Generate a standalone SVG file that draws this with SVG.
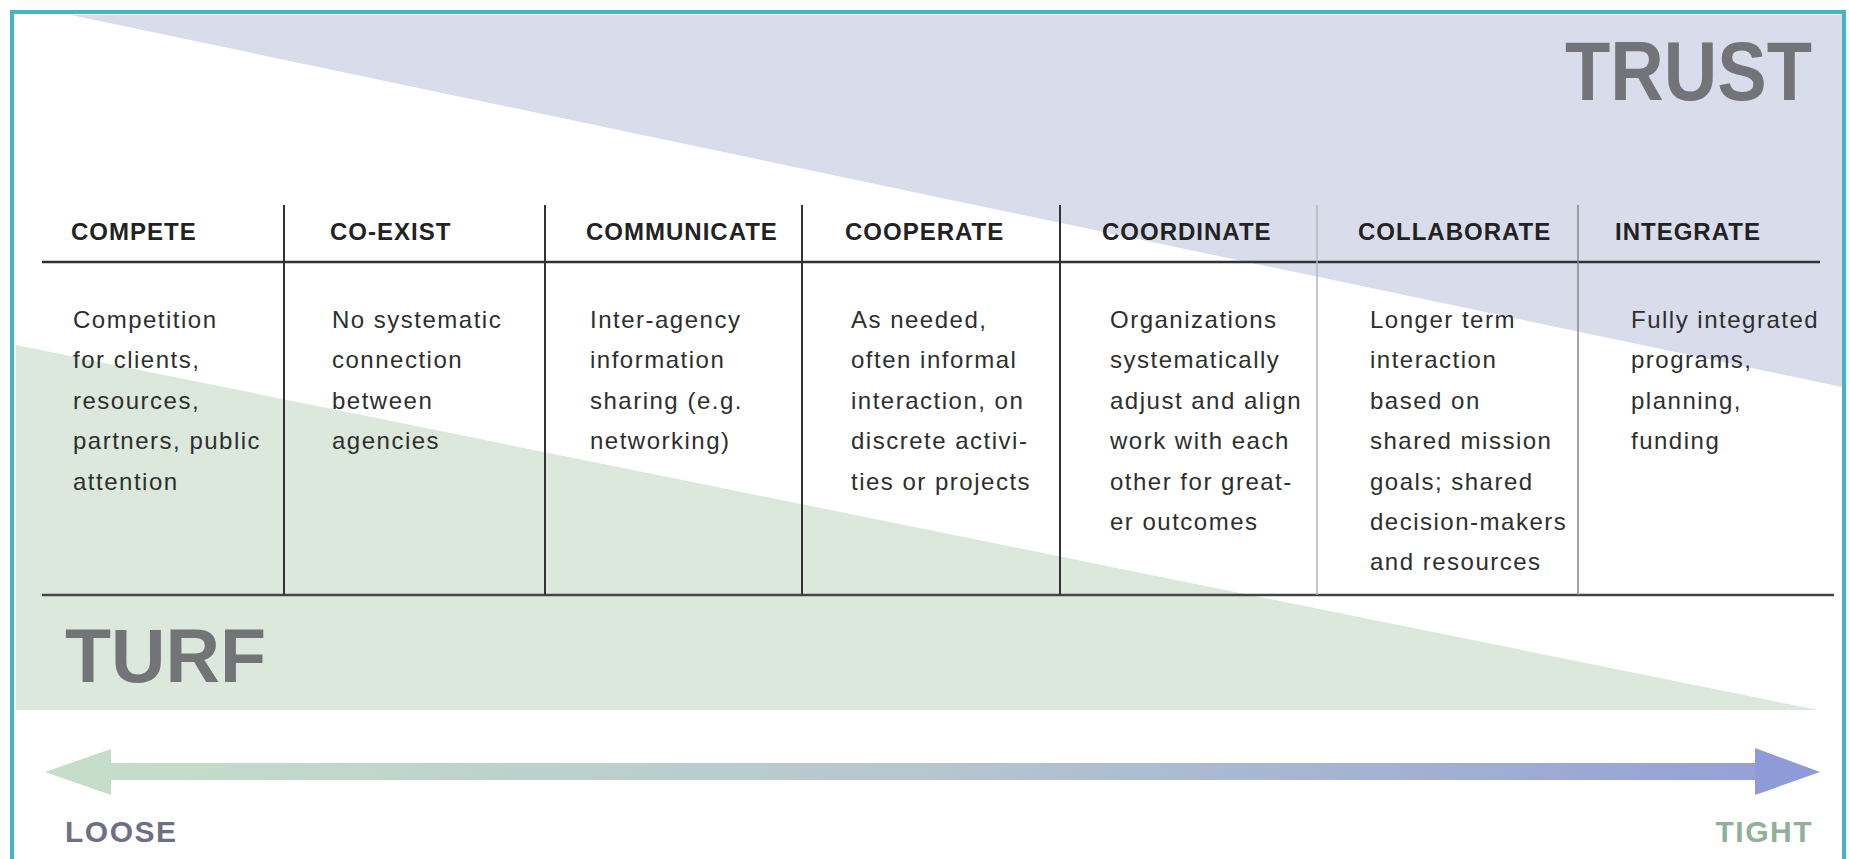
<svg xmlns="http://www.w3.org/2000/svg" width="1849" height="859" viewBox="0 0 1849 859">
<defs>
<style>
.hd{font-family:"Liberation Sans",Arial,sans-serif;font-weight:bold;font-size:24px;letter-spacing:1px;fill:#222}
.bd{font-family:"Liberation Sans",Arial,sans-serif;font-size:24px;letter-spacing:1.5px;fill:#2e2e2e}
.big{font-family:"Liberation Sans",Arial,sans-serif;font-weight:bold;fill:#737478}
.lbl{font-family:"Liberation Sans",Arial,sans-serif;font-weight:bold;font-size:30px;letter-spacing:1.5px}
.div{stroke:#333;stroke-width:2}
</style>
<linearGradient id="ag" x1="0" y1="0" x2="1" y2="0">
<stop offset="0" stop-color="#c6ddca"/>
<stop offset="0.5" stop-color="#b5c6cf"/>
<stop offset="1" stop-color="#95a0d6"/>
</linearGradient>
</defs>
<rect width="1849" height="859" fill="#ffffff"/>
<g id="background">
<polygon points="71,15 1842,15 1842,387" fill="#d9dceb"/>
<polygon points="16,345 1818,710 16,710" fill="#dde8dd"/>
</g>
<rect x="12" y="12" width="1832" height="870" fill="none" stroke="#45b5c4" stroke-width="4"/>
<g id="trust"><text class="big" x="1812" y="100" font-size="84" text-anchor="end" textLength="247" lengthAdjust="spacingAndGlyphs">TRUST</text></g>
<g id="turf"><text class="big" x="65" y="682" font-size="76" textLength="201" lengthAdjust="spacingAndGlyphs">TURF</text></g>
<g id="table">
<line x1="42" y1="262" x2="1820" y2="262" stroke="#333" stroke-width="2.5"/>
<line x1="42" y1="595" x2="1834" y2="595" stroke="#444" stroke-width="2.5"/>
<line class="div" x1="284" y1="205" x2="284" y2="595"/>
<line class="div" x1="545" y1="205" x2="545" y2="595"/>
<line class="div" x1="802" y1="205" x2="802" y2="595"/>
<line class="div" x1="1060" y1="205" x2="1060" y2="595"/>
<line x1="1317" y1="205" x2="1317" y2="595" stroke="#b5b5b8" stroke-width="1.5"/>
<line x1="1578" y1="205" x2="1578" y2="595" stroke="#858588" stroke-width="1.5"/>
</g>
<g id="compete">
<text class="hd" x="71" y="240">COMPETE</text>
<text class="bd" x="73"><tspan x="73" y="328">Competition</tspan><tspan x="73" y="368">for clients,</tspan><tspan x="73" y="409">resources,</tspan><tspan x="73" y="449">partners, public</tspan><tspan x="73" y="490">attention</tspan></text>
</g>
<g id="coexist">
<text class="hd" x="330" y="240">CO-EXIST</text>
<text class="bd"><tspan x="332" y="328">No systematic</tspan><tspan x="332" y="368">connection</tspan><tspan x="332" y="409">between</tspan><tspan x="332" y="449">agencies</tspan></text>
</g>
<g id="communicate">
<text class="hd" x="586" y="240">COMMUNICATE</text>
<text class="bd"><tspan x="590" y="328">Inter-agency</tspan><tspan x="590" y="368">information</tspan><tspan x="590" y="409">sharing (e.g.</tspan><tspan x="590" y="449">networking)</tspan></text>
</g>
<g id="cooperate">
<text class="hd" x="845" y="240">COOPERATE</text>
<text class="bd"><tspan x="851" y="328">As needed,</tspan><tspan x="851" y="368">often informal</tspan><tspan x="851" y="409">interaction, on</tspan><tspan x="851" y="449">discrete activi-</tspan><tspan x="851" y="490">ties or projects</tspan></text>
</g>
<g id="coordinate">
<text class="hd" x="1102" y="240">COORDINATE</text>
<text class="bd"><tspan x="1110" y="328">Organizations</tspan><tspan x="1110" y="368">systematically</tspan><tspan x="1110" y="409">adjust and align</tspan><tspan x="1110" y="449">work with each</tspan><tspan x="1110" y="490">other for great-</tspan><tspan x="1110" y="530">er outcomes</tspan></text>
</g>
<g id="collaborate">
<text class="hd" x="1358" y="240">COLLABORATE</text>
<text class="bd"><tspan x="1370" y="328">Longer term</tspan><tspan x="1370" y="368">interaction</tspan><tspan x="1370" y="409">based on</tspan><tspan x="1370" y="449">shared mission</tspan><tspan x="1370" y="490">goals; shared</tspan><tspan x="1370" y="530">decision-makers</tspan><tspan x="1370" y="570">and resources</tspan></text>
</g>
<g id="integrate">
<text class="hd" x="1615" y="240">INTEGRATE</text>
<text class="bd"><tspan x="1631" y="328">Fully integrated</tspan><tspan x="1631" y="368">programs,</tspan><tspan x="1631" y="409">planning,</tspan><tspan x="1631" y="449">funding</tspan></text>
</g>
<g id="connectors">
<rect x="100" y="763" width="1665" height="17" fill="url(#ag)"/>
<polygon points="45,772 111,749 111,795" fill="#c6ddca"/>
<polygon points="1820,772 1755,748 1755,795" fill="#8e9bd8"/>
</g>
<g id="loose"><text class="lbl" x="65" y="842" fill="#6e6f85">LOOSE</text></g>
<g id="tight"><text class="lbl" x="1813" y="842" fill="#8fb198" text-anchor="end">TIGHT</text></g>
</svg>
